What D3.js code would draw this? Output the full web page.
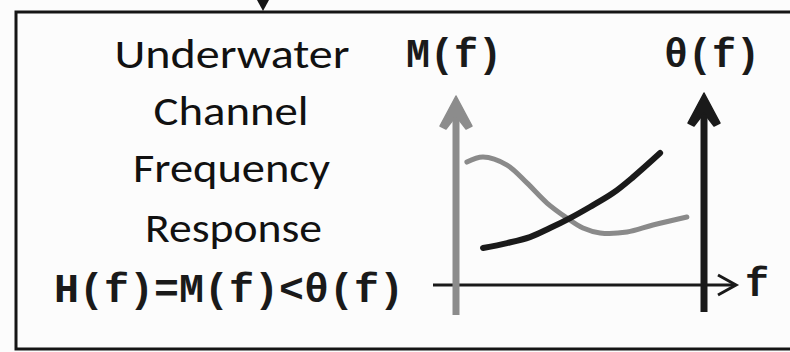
<!DOCTYPE html>
<html><head><meta charset="utf-8">
<script src="https://cdn.jsdelivr.net/npm/d3@7"></script>
<style>html,body{margin:0;padding:0;background:#fcfcfc;}svg{display:block;}</style>
</head><body>
<svg id="c" width="790" height="352"></svg>
<script>
// ---- data ----
const titleLines = ["Underwater", "Channel", "Frequency", "Response"];
const formula = "H(f)=M(f)<\u03b8(f)";
const magLabel = "M(f)";
const phaseLabel = "\u03b8(f)";
const freqLabel = "f";
// frequency (0..100 across the plot) and response values (0..10 up the axis)
const freqM = [4.4, 10.9, 20.6, 28.6, 36.7, 44.8, 51.2, 58.1, 69.0, 79.4, 93.1];
const magnitude = [6.54, 6.81, 6.38, 5.43, 4.36, 3.56, 3.03, 2.77, 2.82, 3.19, 3.62];
const freqP = [10.9, 20.6, 29.8, 37.9, 46.0, 54.0, 63.3, 71.4, 82.3];
const phase = [1.97, 2.23, 2.55, 3.03, 3.56, 4.15, 4.89, 5.74, 7.02];

const svg = d3.select("#c");
svg.append("rect").attr("width",790).attr("height",352).attr("fill","#fcfcfc");

// outer box
svg.append("rect").attr("x",16).attr("y",12).attr("width",800).attr("height",337)
  .attr("fill","none").attr("stroke","#151515").attr("stroke-width",3);
// incoming arrow at top
svg.append("line").attr("x1",263).attr("x2",263).attr("y1",-5).attr("y2",4)
  .attr("stroke","#151515").attr("stroke-width",2);
svg.append("path").attr("d","M257,0 L269,0 L263,11 Z").attr("fill","#151515");

// title text
const titleY = [68, 125, 182, 242];
const titleX = [232, 231, 231.5, 233.5];
const titleW = [235, 155, 197, 177];
svg.selectAll("text.title").data(titleLines).join("text")
  .attr("class","title")
  .attr("x",(d,i)=>titleX[i]).attr("y",(d,i)=>titleY[i])
  .attr("text-anchor","middle")
  .attr("font-family","Carlito, Calibri, Lato, sans-serif")
  .attr("font-size",40)
  .attr("textLength",(d,i)=>titleW[i]).attr("lengthAdjust","spacingAndGlyphs")
  .attr("fill","#111")
  .text(d=>d);

const mono = sel => sel.attr("font-family","'Liberation Mono', 'Courier New', monospace")
  .attr("font-weight","bold").attr("font-size",40).attr("fill","#1a1a1a");

svg.append("text").attr("x",54).attr("y",302).call(mono)
  .attr("textLength",350).attr("lengthAdjust","spacingAndGlyphs").text(formula);

// scales
const x = d3.scaleLinear().domain([0,100]).range([456,704]);
const y = d3.scaleLinear().domain([0,10]).range([285,97]);

// f axis
svg.append("line").attr("x1",433).attr("x2",735).attr("y1",y(0)).attr("y2",y(0))
  .attr("stroke","#1a1a1a").attr("stroke-width",3);
svg.append("path").attr("d",`M718,${y(0)-10} L736,${y(0)} L718,${y(0)+10}`)
  .attr("fill","none").attr("stroke","#1a1a1a").attr("stroke-width",3);
svg.append("text").attr("x",745).attr("y",296).call(mono).text(freqLabel);

// arrowhead helper (filled, notched)
const head = (cx, tipY, col) => svg.append("path")
  .attr("d",`M${cx},${tipY} L${cx+16},${tipY+30} L${cx+10},${tipY+33} L${cx},${tipY+20} L${cx-10},${tipY+33} L${cx-16},${tipY+30} Z`)
  .attr("fill",col).attr("stroke",col).attr("stroke-width",1.5).attr("stroke-linejoin","round");

// M axis (gray)
svg.append("line").attr("x1",x(0)).attr("x2",x(0)).attr("y1",315).attr("y2",y(10)+16)
  .attr("stroke","#8c8c8c").attr("stroke-width",7);
head(x(0), 96, "#8c8c8c");
// theta axis (black)
svg.append("line").attr("x1",x(100)).attr("x2",x(100)).attr("y1",312).attr("y2",y(10)+14)
  .attr("stroke","#1a1a1a").attr("stroke-width",7);
head(x(100), 93, "#1a1a1a");

svg.append("text").attr("x",x(0)-50).attr("y",67).call(mono).text(magLabel);
svg.append("text").attr("x",x(100)-40).attr("y",67).call(mono).text(phaseLabel);

// curves
const line = d3.line().x(d=>x(d[0])).y(d=>y(d[1])).curve(d3.curveCatmullRom);
svg.append("path").datum(freqM.map((f,i)=>[f,magnitude[i]])).attr("d",line)
  .attr("fill","none").attr("stroke","#8a8a8a").attr("stroke-width",5).attr("stroke-linecap","round");
svg.append("path").datum(freqP.map((f,i)=>[f,phase[i]])).attr("d",line)
  .attr("fill","none").attr("stroke","#1a1a1a").attr("stroke-width",6).attr("stroke-linecap","round");
</script>
</body></html>
